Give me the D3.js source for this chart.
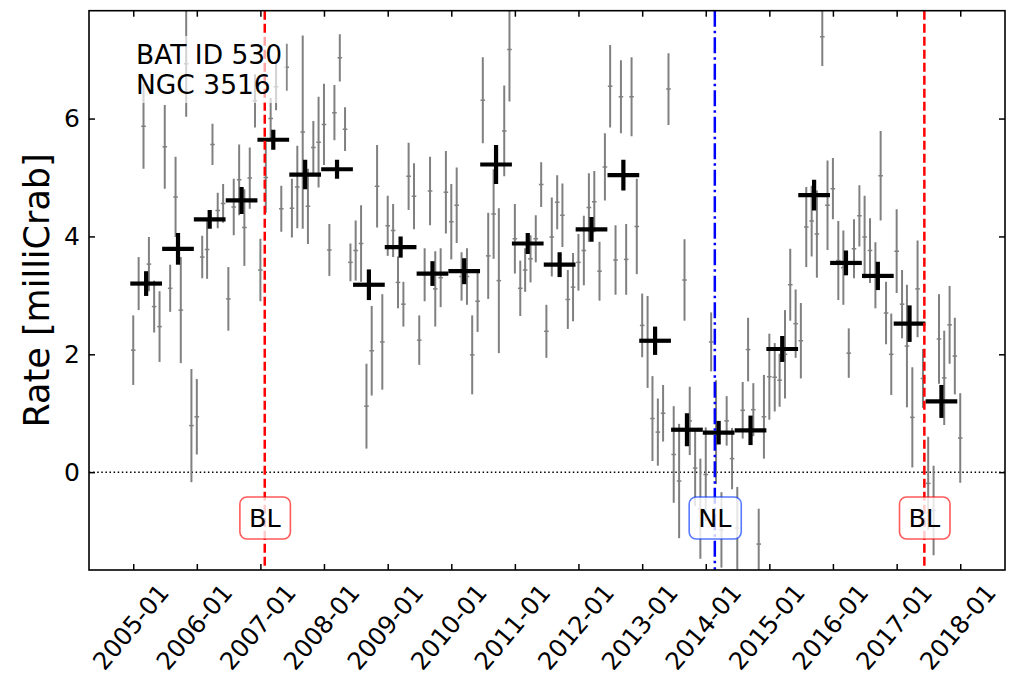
<!DOCTYPE html>
<html><head><meta charset="utf-8">
<script src="https://cdn.jsdelivr.net/npm/d3@7"></script>
<style>
body{margin:0;background:#fff}
svg{font-family:"DejaVu Sans",sans-serif;display:block}
</style>
</head><body>
<svg id="c" width="1015" height="677"></svg>
<script>
// ---------------- data ----------------
const monthlyStart = "2005-01-01"; // first monthly bin, then one value per month
const monthlyRates = [
 2.07,3.2,5.87,3.53,2.81,2.47,5.52,3.12,4.67,2.75,6.93,0.79,
 0.94,3.65,3.78,5.56,4.44,4.56,2.94,4.5,4.96,4.15,4.99,6.3,
 3.43,5.0,6.0,6.54,4.47,6.87,4.48,4.84,5.77,4.51,5.51,5.6,
 5.9,3.77,6.1,7.03,5.82,3.56,3.76,3.88,1.12,2.06,4.85,2.21,
 4.18,4.1,3.22,2.85,5.02,4.68,2.24,3.35,4.77,3.11,3.3,4.75,
 4.25,4.53,3.32,3.32,1.99,2.9,6.31,3.67,4.38,3.25,5.79,7.17,
 3.96,3.12,3.43,3.62,3.96,4.88,2.39,3.99,4.58,4.36,2.93,3.14,
 3.56,3.76,4.49,4.59,3.41,5.18,6.55,3.6,6.37,3.61,6.37,4.17,
 2.49,2.21,0.91,0.68,1.0,6.5,0.3,-0.15,3.26,0.87,0.07,-0.62,
 -0.04,2.21,0.68,-0.98,0.87,0.23,-0.95,1.05,2.08,1.06,-1.22,0.94,
 1.62,1.61,1.56,2.0,3.18,2.52,2.23,4.16,4.26,4.04,7.39,4.53,
 4.81,3.59,3.47,2.02,3.79,4.35,3.99,3.76,3.34,5.03,2.7,2.0,
 3.75,2.85,2.14,0.93,3.11,1.59,-0.19,-0.65,2.26,1.6,2.5,1.97,
 0.58
];
const monthlyErrors = [
 0.59,0.45,0.72,0.46,0.44,0.6,0.71,0.4,0.68,0.9,0.9,0.96,
 0.64,0.36,0.5,0.35,0.3,0.33,0.54,0.48,0.6,0.65,0.52,0.45,
 0.53,0.6,0.35,0.4,0.39,0.4,0.5,0.7,1.64,0.64,0.45,0.77,
 0.69,0.44,0.47,0.4,0.37,0.32,0.51,0.65,0.72,0.76,0.7,0.81,
 0.51,0.45,0.44,0.38,0.57,0.56,0.42,0.45,0.58,0.64,0.5,0.7,
 0.64,0.64,0.41,0.48,0.67,0.52,0.73,0.73,0.76,1.23,0.77,0.88,
 0.59,0.47,0.37,0.4,0.4,0.38,0.45,0.67,0.46,0.54,0.5,0.58,
 0.48,0.59,0.58,0.52,0.5,0.57,0.7,0.59,0.62,0.6,0.67,0.81,
 0.54,0.78,0.72,0.57,0.48,0.61,0.82,0.97,0.69,0.58,0.65,0.85,
 0.8,0.5,0.88,0.64,0.42,0.52,0.7,0.48,0.54,0.45,0.6,0.71,
 0.73,0.58,0.45,0.75,0.61,0.58,0.64,0.68,0.6,0.74,0.5,0.76,
 0.52,0.67,0.63,0.42,0.5,0.52,0.7,0.55,0.56,0.76,0.53,0.69,
 0.71,0.58,1.04,0.85,0.82,0.5,0.79,0.76,0.76,0.8,0.66,0.65,
 0.76
];
const binCenters = [
 "2005-03-16","2005-09-15","2006-03-16","2006-09-15","2007-03-16","2007-09-15",
 "2008-03-16","2008-09-15","2009-03-16","2009-09-15","2010-03-16","2010-09-15",
 "2011-03-16","2011-09-15","2012-03-16","2012-09-15","2013-03-16","2013-09-15",
 "2014-03-16","2014-09-15","2015-03-16","2015-09-15","2016-03-16","2016-09-15",
 "2017-03-16","2017-09-15"
];
const binRates = [
 3.2,3.79,4.29,4.61,5.64,5.05,5.14,3.18,3.82,3.37,3.41,5.22,3.88,
 3.52,4.12,5.04,2.23,0.72,0.67,0.71,2.09,4.7,3.55,3.33,2.52,1.2
];
const binErrors = [
 0.21,0.27,0.16,0.23,0.17,0.25,0.16,0.26,0.18,0.21,0.22,0.33,0.18,
 0.21,0.21,0.26,0.24,0.28,0.2,0.25,0.22,0.26,0.21,0.24,0.31,0.28
];
const binHalfWidthDays = 91;
const eventDates = ["2007-01-26","2014-02-22","2017-06-09"];
const eventLabels = ["BL","NL","BL"];
const xTickDates = ["2005-01-01","2006-01-01","2007-01-01","2008-01-01","2009-01-01","2010-01-01",
 "2011-01-01","2012-01-01","2013-01-01","2014-01-01","2015-01-01","2016-01-01","2017-01-01","2018-01-01"];
const yTicks = [0,2,4,6];
const xDomain = ["2004-04-22","2018-09-15"];
const yDomain = [-1.66,7.83];
const sourceLines = ["BAT ID 530","NGC 3516"];
const yLabel = "Rate [milliCrab]";

// ---------------- drawing ----------------
const parse = d3.utcParse("%Y-%m-%d");
const svg = d3.select("#c");
const L = 89, R = 1005, T = 10.7, B = 570;
const x = d3.scaleUtc().domain(xDomain.map(parse)).range([L, R]);
const y = d3.scaleLinear().domain(yDomain).range([B, T]);

svg.append("clipPath").attr("id","pc").append("rect")
  .attr("x",L).attr("y",T).attr("width",R-L).attr("height",B-T);
const plot = svg.append("g").attr("clip-path","url(#pc)");

const start = parse(monthlyStart);
const monthly = monthlyRates.map((v,i)=>({d:d3.utcMonth.offset(start,i), v, e:monthlyErrors[i]}));

// zero line
plot.append("line").attr("x1",L).attr("x2",R).attr("y1",y(0)).attr("y2",y(0))
  .attr("stroke","#000").attr("stroke-width",1.5).attr("stroke-dasharray","1.5,2.6");

// grey monthly error bars
const g1 = plot.append("g").attr("stroke","#808080");
monthly.forEach(p=>{
  const cx = x(p.d);
  g1.append("line").attr("x1",cx).attr("x2",cx).attr("y1",y(p.v-p.e)).attr("y2",y(p.v+p.e)).attr("stroke-width",2);
  g1.append("line").attr("x1",cx-2.3).attr("x2",cx+2.3).attr("y1",y(p.v)).attr("y2",y(p.v)).attr("stroke-width",1.5);
});

// black binned crosses
const g2 = plot.append("g").attr("stroke","#000").attr("stroke-width",4.2);
binCenters.forEach((c,i)=>{
  const d = parse(c);
  const cx = x(d);
  g2.append("line").attr("x1",x(d3.utcDay.offset(d,-binHalfWidthDays))).attr("x2",x(d3.utcDay.offset(d,binHalfWidthDays)))
    .attr("y1",y(binRates[i])).attr("y2",y(binRates[i]));
  g2.append("line").attr("x1",cx).attr("x2",cx)
    .attr("y1",y(binRates[i]-binErrors[i])).attr("y2",y(binRates[i]+binErrors[i]));
});

// event lines
eventDates.forEach((ds,i)=>{
  const ex = x(parse(ds));
  const isBL = eventLabels[i]==="BL";
  plot.append("line").attr("x1",ex).attr("x2",ex).attr("y1",T).attr("y2",B)
    .attr("stroke",isBL?"#ff0000":"#0000ff").attr("stroke-width",2.5)
    .attr("stroke-dasharray",isBL?"9,4":"16,4,2.5,4");
});

// source text with semi-transparent box
const st = svg.append("g");
const stBox = st.append("rect");
const stText = st.append("text").attr("font-size",26.5).attr("fill","#000");
sourceLines.forEach((s,i)=>{
  stText.append("tspan").attr("x",136).attr("y",64+i*30).text(s);
});
const sb = stText.node().getBBox();
stBox.attr("x",sb.x-4).attr("y",sb.y-3).attr("width",sb.width+8).attr("height",sb.height+6)
  .attr("fill","#fff").attr("fill-opacity",0.65);

// event labels
eventDates.forEach((ds,i)=>{
  const ex = x(parse(ds));
  const isBL = eventLabels[i]==="BL";
  const g = svg.append("g");
  const r = g.append("rect");
  const t = g.append("text").attr("x",ex).attr("y",527).attr("text-anchor","middle")
    .attr("font-size",25.5).attr("fill","#000").text(eventLabels[i]);
  const bb = t.node().getBBox();
  r.attr("x",bb.x-9).attr("y",bb.y-6).attr("width",bb.width+18).attr("height",bb.height+12)
   .attr("rx",7).attr("ry",7)
   .attr("fill","#fff").attr("fill-opacity",0.8)
   .attr("stroke",isBL?"#ff0000":"#0033ff").attr("stroke-opacity",0.65).attr("stroke-width",1.6);
});

// axes
const xt = xTickDates.map(parse);
const fmt = d3.utcFormat("%Y-%m");
const ax = svg.append("g").attr("transform",`translate(0,${B})`)
  .call(d3.axisBottom(x).tickValues(xt).tickFormat(fmt).tickSizeInner(-6).tickSizeOuter(0));
ax.selectAll("text").attr("font-size",24.5).attr("fill","#000")
  .attr("text-anchor","middle").attr("dy","0.35em").attr("y",null)
  .attr("transform","translate(-3,57) rotate(-50)");
svg.append("g").attr("transform",`translate(0,${T})`)
  .call(d3.axisTop(x).tickValues(xt).tickFormat("").tickSizeInner(-6).tickSizeOuter(0));
const ay = svg.append("g").attr("transform",`translate(${L},0)`)
  .call(d3.axisLeft(y).tickValues(yTicks).tickFormat(d3.format("d")).tickSizeInner(-6).tickSizeOuter(0).tickPadding(9));
ay.selectAll("text").attr("font-size",25).attr("fill","#000");
svg.append("g").attr("transform",`translate(${R},0)`)
  .call(d3.axisRight(y).tickValues(yTicks).tickFormat("").tickSizeInner(-6).tickSizeOuter(0));
svg.selectAll(".domain").remove();
svg.selectAll(".tick line").attr("stroke","#000").attr("stroke-width",1.5);
svg.selectAll("g.tick text").attr("font-family","DejaVu Sans");

svg.append("rect").attr("x",L).attr("y",T).attr("width",R-L).attr("height",B-T)
  .attr("fill","none").attr("stroke","#000").attr("stroke-width",1.6);

svg.append("text").attr("transform",`translate(49,${(T+B)/2}) rotate(-90)`)
  .attr("text-anchor","middle").attr("font-size",35).attr("fill","#000").text(yLabel);
</script>
</body></html>
